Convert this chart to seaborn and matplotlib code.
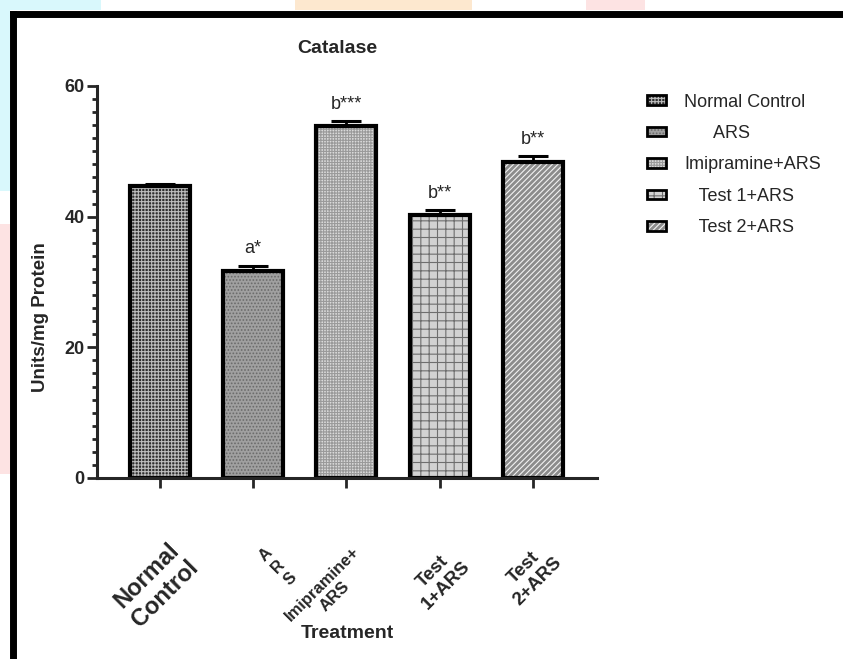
import seaborn as sns
import matplotlib.pyplot as plt
import matplotlib.transforms as mtransforms
import pandas as pd
from matplotlib.patches import Rectangle, Patch
from matplotlib.lines import Line2D
from matplotlib.legend_handler import HandlerTuple
from matplotlib.ticker import MultipleLocator

# data
groups = ['Normal Control', 'ARS', 'Imipramine+ARS', 'Test 1+ARS', 'Test 2+ARS']
means = [44.7, 31.7, 53.9, 40.2, 48.3]
sems = [0.3, 0.8, 0.7, 0.8, 1.0]
signif = ['', 'a*', 'b***', 'b**', 'b**']
tick_labels = ['Normal\nControl', 'A\nR\nS', 'Imipramine+\nARS', 'Test\n1+ARS', 'Test\n2+ARS']
legend_labels = ['Normal Control', '      ARS', 'Imipramine+ARS', '   Test 1+ARS', '   Test 2+ARS']

# fill / hatch styling per group
fills = ['#2e2e2e', '#a0a0a0', '#dadada', '#d2d2d2', '#8c8c8c']
hatch_cols = ['#bdbdbd', '#6a6a6a', '#9a9a9a', '#6e6e6e', '#f2f2f2']
hatches = ['+++++', '.....', '++++++', '++', '//////']

sns.set_theme(style='ticks')
plt.rcParams['font.family'] = ['Liberation Sans', 'DejaVu Sans']
plt.rcParams['hatch.linewidth'] = 0.8

df = pd.DataFrame({'group': groups, 'mean': means, 'sem': sems})

fig = plt.figure(figsize=(8.43, 6.59), dpi=100)

# faint coloured watermark showing outside the frame
for (x0, y0, w, h, c) in [(0, 0.985, 0.12, 0.015, '#d9f8fc'), (0.35, 0.985, 0.21, 0.015, '#fde8cf'),
                          (0.695, 0.985, 0.07, 0.015, '#fde3e3'), (0, 0.71, 0.012, 0.29, '#d9f8fc'),
                          (0, 0.28, 0.012, 0.38, '#fde3e3')]:
    fig.add_artist(Rectangle((x0, y0), w, h, transform=fig.transFigure, color=c, lw=0))

ax = fig.add_axes([0.115, 0.2747, 0.593, 0.5948])

sns.barplot(data=df, x='group', y='mean', errorbar=None, width=0.643, ax=ax)

centers = []
for p, fc, hc, h in zip(ax.patches, fills, hatch_cols, hatches):
    p.set_facecolor(fc)
    p.set_edgecolor(hc)
    p.set_hatch(h)
    p.set_linewidth(0)
    ax.add_patch(Rectangle(p.get_xy(), p.get_width(), p.get_height(), fill=False,
                           edgecolor='black', lw=3, zorder=p.get_zorder() + 0.1))
    centers.append(p.get_x() + p.get_width() / 2)

# upper-only error bars
ax.errorbar(centers, means, yerr=[[0] * len(sems), sems], fmt='none', ecolor='black',
            elinewidth=2, capsize=11, capthick=2.2, zorder=1)

for x, m, s, t in zip(centers, means, sems, signif):
    if t:
        ax.annotate(t, (x, m + s), xytext=(0, 6), textcoords='offset points',
                    ha='center', va='bottom', fontsize=13)

ax.set_ylim(0, 60)
ax.set_xlim(-0.675, 4.685)
ax.yaxis.set_major_locator(MultipleLocator(20))
ax.yaxis.set_minor_locator(MultipleLocator(2))
sns.despine(ax=ax)
for side in ['left', 'bottom']:
    ax.spines[side].set_linewidth(2.2)
ax.tick_params(axis='y', which='major', length=7, width=2, labelsize=13, pad=2)
ax.tick_params(axis='y', which='minor', length=3.6, width=2)
ax.tick_params(axis='x', length=7, width=2, pad=64)
for lab in ax.get_yticklabels():
    lab.set_fontweight('bold')

ax.set_xticks(range(len(groups)))
ax.set_xticklabels(tick_labels, rotation=45, rotation_mode='anchor', ha='center',
                   va='center', fontweight='bold')
label_sizes = [17, 12, 12, 13.5, 13.5]
label_shift = [(-4, -8), (25, 10), (-18, -14), (0, -2), (-2, 2)]  # pixel nudges
for lab, fs, (dx, dy) in zip(ax.get_xticklabels(), label_sizes, label_shift):
    lab.set_fontsize(fs)
    lab.set_transform(lab.get_transform() +
                      mtransforms.ScaledTranslation(dx / 100, dy / 100, fig.dpi_scale_trans))

ax.set_xlabel('Treatment', fontsize=14, fontweight='bold')
ax.xaxis.set_label_coords(0.5, -0.375)
ax.set_ylabel('Units/mg Protein', fontsize=13.5, fontweight='bold')
ax.yaxis.set_label_coords(-0.095, 0.41)
ax.set_title('Catalase', fontsize=14, fontweight='bold', pad=24, x=0.48)

handles = []
for fc, hc, h in zip(fills, hatch_cols, hatches):
    handles.append((Patch(facecolor=fc, edgecolor=hc, hatch=h, lw=0),
                    Patch(fill=False, edgecolor='black', lw=2)))
fig.legend(handles, legend_labels, handler_map={tuple: HandlerTuple(ndivide=1, pad=0)},
           loc='upper left', bbox_to_anchor=(0.767, 0.858), frameon=False, fontsize=13,
           handlelength=1.1, handleheight=0.45, handletextpad=1.0, labelspacing=0.8,
           borderpad=0, borderaxespad=0)

# outer black frame (left and top edges)
fig.add_artist(Line2D([0.016, 0.016], [0, 0.9795], transform=fig.transFigure, color='black',
                      lw=5, solid_capstyle='projecting'))
fig.add_artist(Line2D([0.016, 1], [0.9795, 0.9795], transform=fig.transFigure, color='black',
                      lw=5, solid_capstyle='projecting'))

fig.savefig('out.png', dpi=100)
